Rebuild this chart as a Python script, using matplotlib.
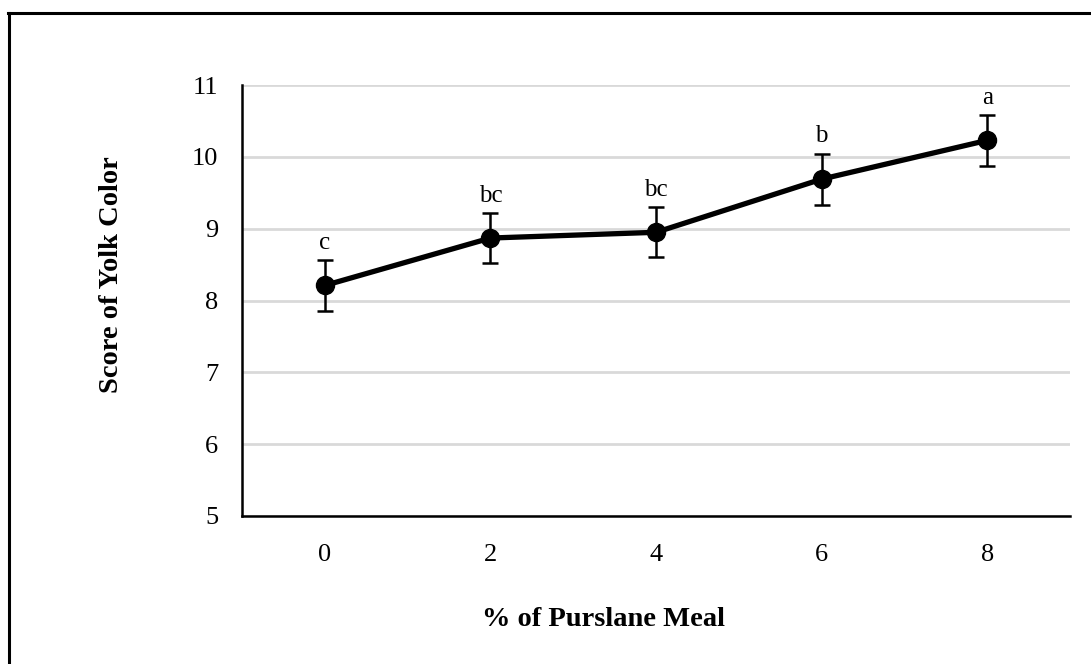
import numpy as np
import matplotlib
matplotlib.use("Agg")
import matplotlib.pyplot as plt
from matplotlib.lines import Line2D

levels = ["0", "2", "4", "6", "8"]
score = [8.21, 8.87, 8.95, 9.69, 10.23]
err = [0.35, 0.35, 0.35, 0.355, 0.355]
letters = ["c", "bc", "bc", "b", "a"]
yticks = [5, 6, 7, 8, 9, 10, 11]

plt.rcParams['font.family'] = ['Liberation Serif', 'DejaVu Serif']

fig = plt.figure(figsize=(10.91, 6.64), dpi=100)
ax = fig.add_axes([0.2218, 0.2229, 0.759, 0.649])

x = np.arange(len(levels))
ax.errorbar(x, score, yerr=err, color='black', linewidth=3.8, marker='o',
            markersize=13, ecolor='black', elinewidth=1.8, capsize=6, capthick=1.8,
            zorder=3)
for xi, yi, ei, lab in zip(x, score, err, letters):
    ax.annotate(lab, (xi, yi + ei), xytext=(0, 4.5), textcoords='offset points',
                ha='center', va='bottom', fontsize=18)

ax.set_xlim(-0.5, 4.5)
ax.set_ylim(5, 11)
ax.set_yticks(yticks)
ax.set_xticks(x)
ax.set_xticklabels(levels)
ax.tick_params(length=0, labelsize=19)
ax.tick_params(axis='y', pad=17)
ax.tick_params(axis='x', pad=20)
ax.grid(axis='y', color='#d9d9d9', linewidth=2)
ax.set_axisbelow(True)
for s in ['top', 'right']:
    ax.spines[s].set_visible(False)
for s in ['left', 'bottom']:
    ax.spines[s].set_linewidth(1.8)
    ax.spines[s].set_zorder(4)

fig.text(0.553, 0.067, "% of Purslane Meal", ha='center', va='center',
         fontsize=20.5, fontweight='bold')
fig.text(0.102, 0.586, "Score of Yolk Color", ha='center', va='center',
         rotation=90, fontsize=20.5, fontweight='bold')

# outer frame (top and left edges visible)
fig.add_artist(Line2D([0.008, 0.008], [0.0, 0.981], transform=fig.transFigure,
                      color='black', linewidth=2.2))
fig.add_artist(Line2D([0.007, 1.0], [0.981, 0.981], transform=fig.transFigure,
                      color='black', linewidth=2.2))

fig.savefig("out.png", dpi=100)
